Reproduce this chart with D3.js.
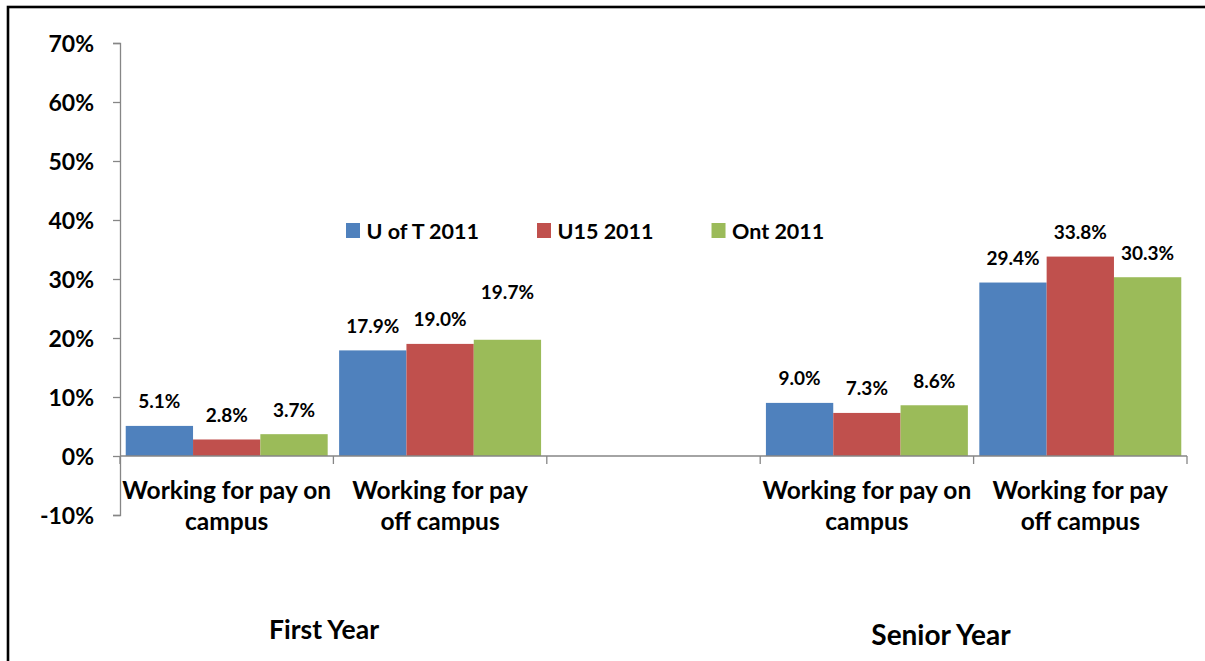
<!DOCTYPE html>
<html>
<head>
<meta charset="utf-8">
<script src="https://cdn.jsdelivr.net/npm/d3@7"></script>
<style>
  html, body { margin: 0; padding: 0; background: #fff; }
  svg { display: block; }
  text { font-family: Lato, "Open Sans", sans-serif; font-weight: 700; fill: #000; }
</style>
</head>
<body>
<svg id="chart" width="1205" height="661"></svg>
<script>
// ---- data ----
const groups = ["First Year", "Senior Year"];
const categories = ["Working for pay on campus", "Working for pay off campus"];
const series = ["U of T 2011", "U15 2011", "Ont 2011"];
const firstYearValues = [[5.1, 2.8, 3.7], [17.9, 19.0, 19.7]];
const seniorYearValues = [[9.0, 7.3, 8.6], [29.4, 33.8, 30.3]];
const yTicks = [-10, 0, 10, 20, 30, 40, 50, 60, 70];
const colors = ["#4F81BD", "#C0504D", "#9BBB59"];

// slots along the category axis (an empty slot separates the two groups)
const slots = [
  { id: "FY-on", group: 0, cat: 0, values: firstYearValues[0] },
  { id: "FY-off", group: 0, cat: 1, values: firstYearValues[1] },
  { id: "gap", group: null, cat: null, values: [] },
  { id: "SY-on", group: 1, cat: 0, values: seniorYearValues[0] },
  { id: "SY-off", group: 1, cat: 1, values: seniorYearValues[1] }
];

const svg = d3.select("#chart");

// outer border (right and bottom fall outside the picture)
svg.append("rect").attr("x", 8).attr("y", 7).attr("width", 1400).attr("height", 900)
  .attr("fill", "none").attr("stroke", "#000").attr("stroke-width", 2.6);

const x0 = d3.scaleBand().domain(slots.map(s => s.id)).range([120, 1187]).padding(0);
const x1 = d3.scaleBand().domain(series).range([0, x0.bandwidth()]).paddingInner(0).paddingOuter(0.085);
const y = d3.scaleLinear().domain([-10, 70]).range([515, 43]);

// y axis
const yAxis = svg.append("g").attr("transform", "translate(120,0)")
  .call(d3.axisLeft(y).tickValues(yTicks).tickSize(7).tickPadding(19).tickFormat(d => d + "%"));
yAxis.select(".domain").attr("stroke", "#868686").attr("stroke-width", 1.3);
yAxis.selectAll(".tick line").attr("stroke", "#868686").attr("stroke-width", 1.3);
yAxis.selectAll(".tick text").style("font-size", "23px").attr("font-family", null).attr("dy", "0.36em");

// bars
const barG = svg.append("g");
slots.forEach(s => {
  s.values.forEach((v, i) => {
    barG.append("rect")
      .attr("x", x0(s.id) + x1(series[i]))
      .attr("y", y(Math.max(0, v)))
      .attr("width", x1.bandwidth())
      .attr("height", Math.abs(y(v) - y(0)))
      .attr("fill", colors[i]);
  });
});

// x axis (at 0)
const xAxisG = svg.append("g");
xAxisG.append("line").attr("x1", 120).attr("x2", 1187).attr("y1", y(0)).attr("y2", y(0))
  .attr("stroke", "#868686").attr("stroke-width", 1.3);
const boundaries = slots.map(s => x0(s.id)).concat([x0.range()[1]]);
xAxisG.selectAll("line.tk").data(boundaries).enter().append("line").attr("class", "tk")
  .attr("x1", d => d).attr("x2", d => d).attr("y1", y(0)).attr("y2", y(0) + 8)
  .attr("stroke", "#868686").attr("stroke-width", 1.3);

// data labels
const labelLift = { "FY-off|2": 23 };   // a label moved up by hand in the original
const lblG = svg.append("g");
slots.forEach(s => {
  s.values.forEach((v, i) => {
    const extra = labelLift[s.id + "|" + i] || 0;
    lblG.append("text")
      .attr("x", x0(s.id) + x1(series[i]) + x1.bandwidth() / 2)
      .attr("y", y(v) - 17.5 - extra)
      .attr("text-anchor", "middle")
      .style("font-size", "19px")
      .text(v.toFixed(1) + "%");
  });
});

// category labels (two lines)
const catLines = [["Working for pay on", "campus"], ["Working for pay", "off campus"]];
slots.filter(s => s.cat !== null).forEach(s => {
  const t = svg.append("text").attr("text-anchor", "middle").style("font-size", "24.5px");
  catLines[s.cat].forEach((ln, k) => {
    t.append("tspan").attr("x", x0(s.id) + x0.bandwidth() / 2).attr("y", 499 + k * 31).text(ln);
  });
});

// group labels
const groupPos = [{ x: 324, y: 639, size: 26.5 }, { x: 941, y: 645, size: 28 }];
groups.forEach((g, i) => {
  svg.append("text").attr("x", groupPos[i].x).attr("y", groupPos[i].y)
    .attr("text-anchor", "middle").style("font-size", groupPos[i].size + "px").text(g);
});

// legend
const leg = svg.append("g");
let lx = 346;
series.forEach((s, i) => {
  leg.append("rect").attr("x", lx).attr("y", 223).attr("width", 14).attr("height", 15).attr("fill", colors[i]);
  const t = leg.append("text").attr("x", lx + 20.5).attr("y", 238.5).style("font-size", "21.5px").text(s);
  lx = lx + 20.5 + t.node().getComputedTextLength() + 58;
});
</script>
</body>
</html>
